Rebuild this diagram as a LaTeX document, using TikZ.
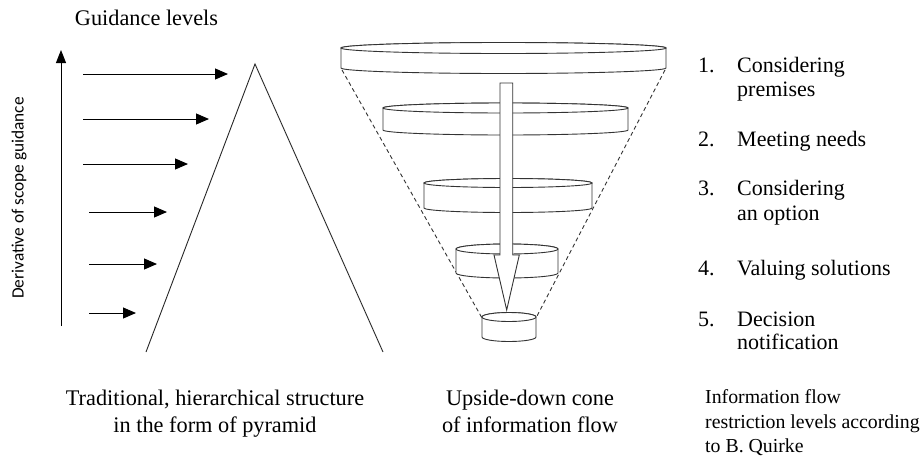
\documentclass[tikz,border=0pt]{standalone}
\usepackage{fontspec}
\setmainfont{Liberation Serif}
\newfontfamily\calib{Carlito}
\usetikzlibrary{arrows.meta}
\newcommand\conedisc[5]{%
  \filldraw[disc] (#1-#4,#2) -- (#1-#4,#3) arc[start angle=180,end angle=0,x radius=#4,y radius=#5]
     -- (#1+#4,#2) arc[start angle=0,end angle=-180,x radius=#4,y radius=#5] -- cycle;
  \draw[disc] (#1,#2) ellipse[x radius=#4,y radius=#5];
}
\begin{document}
\begin{tikzpicture}[x=1pt,y=-1pt,
  txt/.style={inner sep=0pt, anchor=base west, font=\fontsize{22}{26}\selectfont},
  captxt/.style={inner sep=0pt, anchor=base, font=\fontsize{22.3}{26}\selectfont},
  smalltxt/.style={inner sep=0pt, anchor=base west, font=\fontsize{19.8}{24}\selectfont},
  pyrline/.style={line width=0.9pt, draw=black!85},
  harrow/.style={line width=1pt, -{Triangle[length=13pt,width=11pt]}},
  disc/.style={line width=0.9pt, draw=black!80, fill=white},
  conedash/.style={line width=0.9pt, draw=black!80, dash pattern=on 4pt off 3pt},
]
\useasboundingbox (0,0) rectangle (920,458);

% title and rotated label
\node[captxt, font=\fontsize{22.3}{26}\selectfont] (title) at (146.5,25) {Guidance levels};
\node[rotate=90, inner sep=0pt, font=\calib\fontsize{17.3}{20}\selectfont] (deriv) at (19,198) {Derivative of scope guidance};

% vertical arrow
\coordinate (vb) at (61,326);
\coordinate (vt) at (61,50);
\draw[line width=1pt, -{Triangle[length=13pt,width=10pt]}] (vb) -- (vt);

% horizontal arrows
\foreach \i/\xs/\yy/\xe in {1/83/74/228, 2/83/119/209, 3/83/164/188, 4/89/212/167, 5/89/264/157, 6/89/313/136}{
  \coordinate (hs\i) at (\xs,\yy);
  \coordinate (he\i) at (\xe,\yy);
  \draw[harrow] (hs\i) -- (he\i);
}

% pyramid
\coordinate (apex) at (255,64);
\coordinate (pl) at (146,352);
\coordinate (pr) at (383,352);
\draw[pyrline] (pl) -- (apex) -- (pr);

% cone dashed sides
\coordinate (cl1) at (342,70);
\coordinate (cl2) at (482,318);
\coordinate (cr1) at (665,70);
\coordinate (cr2) at (536,318);
\draw[conedash] (cl1) -- (cl2);
\draw[conedash] (cr1) -- (cr2);

% discs
\conedisc{503.5}{48}{68}{162.5}{5.5}
\conedisc{505.5}{108}{130}{122.5}{5}
\conedisc{508}{183}{208}{84}{4.5}
\conedisc{507}{249}{273}{51}{5}
\conedisc{509}{317}{337}{27}{4.5}

% hollow arrow
\filldraw[disc] (500,83) -- (512.7,83) -- (512.7,255) -- (519.3,255) -- (506.7,310)
   -- (494,255) -- (500,255) -- cycle;

% list
\node[txt] (n1) at (698,72.7) {1.};
\node[txt] (t1a) at (737,72.7) {Considering};
\node[txt] (t1b) at (737,96.7) {premises};
\node[txt] (n2) at (698,146.7) {2.};
\node[txt] (t2) at (737,146.7) {Meeting needs};
\node[txt] (n3) at (698,195) {3.};
\node[txt] (t3a) at (737,195) {Considering};
\node[txt] (t3b) at (737,220) {an option};
\node[txt] (n4) at (698,275) {4.};
\node[txt] (t4) at (737,275) {Valuing solutions};
\node[txt] (n5) at (698,326) {5.};
\node[txt] (t5a) at (737,326) {Decision};
\node[txt] (t5b) at (737,349) {notification};

% captions
\node[captxt] (c1a) at (215,405) {Traditional, hierarchical structure};
\node[captxt] (c1b) at (215,432) {in the form of pyramid};
\node[captxt] (c2a) at (530,405) {Upside-down cone};
\node[captxt] (c2b) at (530,432) {of information flow};
\node[smalltxt] (c3a) at (705,403) {Information flow};
\node[smalltxt] (c3b) at (705,428) {restriction levels according};
\node[smalltxt] (c3c) at (705,452) {to B. Quirke};
\end{tikzpicture}
\end{document}
